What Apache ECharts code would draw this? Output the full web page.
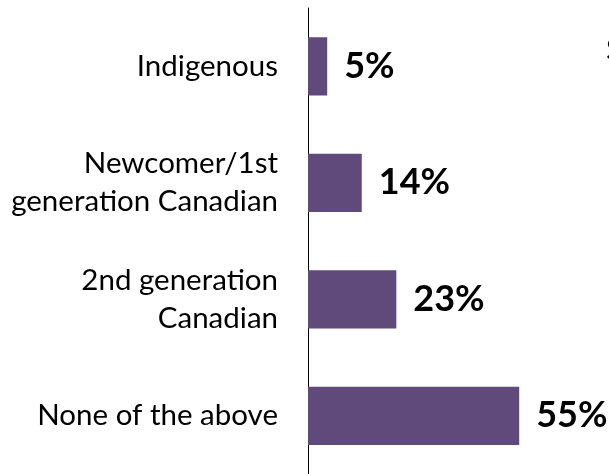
<!DOCTYPE html>
<html>
<head>
<meta charset="utf-8">
<script src="https://cdn.jsdelivr.net/npm/echarts@6/dist/echarts.min.js"></script>
<style>
  html, body { margin: 0; padding: 0; background: #fff; }
  #chart { width: 609px; height: 474px; }
</style>
</head>
<body>
<div id="chart"></div>
<script>
// categories top to bottom
const categories = [
  "Indigenous",
  "Newcomer/1st\ngeneration Canadian",
  "2nd generation\nCanadian",
  "None of the above"
];
const values = [5, 14, 23, 55];

const chart = echarts.init(document.getElementById("chart"));

const option = {
  animation: false,
  title: {
    text: "S", // title cut off at the right edge
    left: 601,
    top: 30,
    textStyle: {
      fontFamily: "Lato",
      fontSize: 30,
      fontWeight: "normal",
      color: "#000"
    }
  },
  grid: {
    left: 308,
    right: 13,
    top: 8,
    bottom: -6,
    containLabel: false
  },
  xAxis: {
    type: "value",
    min: 0,
    max: 75,
    show: false
  },
  yAxis: {
    type: "category",
    inverse: true,
    data: categories,
    axisLine: { show: true, lineStyle: { color: "#000", width: 1 } },
    axisTick: { show: false },
    splitLine: { show: false },
    axisLabel: {
      margin: 30,
      align: "right",
      color: "#000",
      fontFamily: "Lato",
      fontSize: 29.5,
      lineHeight: 38
    }
  },
  series: [
    {
      type: "bar",
      data: values,
      barWidth: "50%",
      silent: true,
      itemStyle: { color: "#604a7b" },
      label: {
        show: true,
        position: "right",
        distance: 17,
        formatter: "{c}%",
        color: "#000",
        fontFamily: "Lato",
        fontWeight: "bold",
        fontSize: 36
      }
    }
  ]
};

chart.setOption(option);
</script>
</body>
</html>
